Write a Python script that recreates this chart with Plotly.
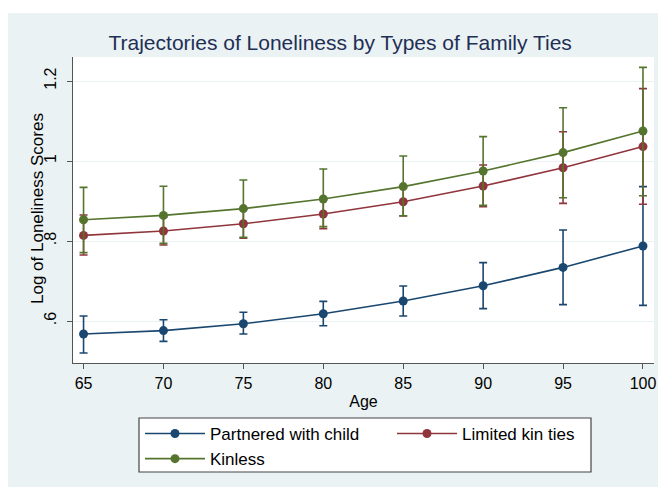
import plotly.graph_objects as go

ages = [65, 70, 75, 80, 85, 90, 95, 100]

partnered = [0.5675, 0.576, 0.593, 0.618, 0.650, 0.688, 0.734, 0.7875]
partnered_hi = [0.6125, 0.603, 0.622, 0.649, 0.6875, 0.746, 0.8275, 0.936]
partnered_lo = [0.520, 0.549, 0.5675, 0.588, 0.6125, 0.631, 0.641, 0.639]

limited = [0.814, 0.825, 0.843, 0.8675, 0.898, 0.9375, 0.983, 1.036]
limited_hi = [0.865, 0.860, 0.879, 0.904, 0.934, 0.990, 1.073, 1.181]
limited_lo = [0.765, 0.790, 0.807, 0.831, 0.8625, 0.886, 0.894, 0.892]

kinless = [0.853, 0.864, 0.881, 0.905, 0.936, 0.975, 1.021, 1.075]
kinless_hi = [0.934, 0.937, 0.9525, 0.980, 1.0125, 1.061, 1.133, 1.234]
kinless_lo = [0.771, 0.794, 0.809, 0.836, 0.863, 0.889, 0.908, 0.913]

series = [
    ("Partnered with child", partnered, partnered_hi, partnered_lo, "#1a476f"),
    ("Limited kin ties", limited, limited_hi, limited_lo, "#90353b"),
    ("Kinless", kinless, kinless_hi, kinless_lo, "#55752f"),
]

ytick_vals = [0.6, 0.8, 1.0, 1.2]
ytick_text = [".6", ".8", "1", "1.2"]
xtick_vals = [65, 70, 75, 80, 85, 90, 95, 100]

fig = go.Figure()
for name, y, hi, lo, col in series:
    fig.add_trace(go.Scatter(
        x=ages, y=y, name=name, mode="lines+markers",
        line=dict(color=col, width=1.6),
        marker=dict(color=col, size=9),
        error_y=dict(type="data", symmetric=False,
                     array=[h - v for h, v in zip(hi, y)],
                     arrayminus=[v - l for v, l in zip(y, lo)],
                     color=col, thickness=1.6, width=4),
        cliponaxis=False,
    ))

W, H = 658, 487
L, R, T, B = 73, 4, 57, 124
PW, PH = W - L - R, H - T - B


def px_x(p):
    return (p - L) / PW


def px_y(p):
    return (T + PH - p) / PH


font_family = "Liberation Sans, Arial, sans-serif"
fig.update_layout(
    width=W, height=H,
    margin=dict(l=L, r=R, t=T, b=B, autoexpand=False),
    paper_bgcolor="#eaf2f3",
    plot_bgcolor="#ffffff",
    font=dict(family=font_family, size=16, color="#000000"),
    title=dict(text="Trajectories of Loneliness by Types of Family Ties",
               x=0.517, xanchor="center", y=1 - 43 / H, yanchor="middle",
               font=dict(size=21, color="#1f2f55", family=font_family)),
    xaxis=dict(range=[64.34, 100.69], tickvals=xtick_vals,
               showgrid=False, zeroline=False, automargin=False,
               showline=True, linecolor="#555555", linewidth=1.2,
               ticks="outside", ticklen=5, tickcolor="#555555",
               tickfont=dict(size=16), ticklabelstandoff=1,
               title=dict(text="Age", font=dict(size=16), standoff=4)),
    yaxis=dict(range=[0.495, 1.26], tickvals=ytick_vals, ticktext=ytick_text,
               tickangle=-90, automargin=False,
               showgrid=True, gridcolor="#eaf2f3", gridwidth=1.3,
               zeroline=False,
               showline=True, linecolor="#555555", linewidth=1.2,
               ticks="outside", ticklen=5, tickcolor="#555555",
               tickfont=dict(size=16), ticklabelstandoff=5),
    annotations=[dict(text="Log of Loneliness Scores", textangle=-90,
                      xref="paper", yref="paper", x=px_x(37), y=px_y(209),
                      xanchor="center", yanchor="middle", showarrow=False,
                      font=dict(size=17, color="#000000"))],
    legend=dict(orientation="h", x=px_x(140), xanchor="left", y=px_y(416), yanchor="top",
                bgcolor="rgba(0,0,0,0)", borderwidth=0,
                entrywidth=177, entrywidthmode="pixels", itemwidth=60,
                font=dict(size=17), tracegroupgap=0),
    shapes=[
        dict(type="rect", xref="paper", yref="paper",
             x0=px_x(0), x1=px_x(W), y0=px_y(13), y1=px_y(0),
             fillcolor="#ffffff", line=dict(width=0), layer="below"),
        dict(type="rect", xref="paper", yref="paper",
             x0=px_x(0), x1=px_x(8), y0=px_y(H), y1=px_y(0),
             fillcolor="#ffffff", line=dict(width=0), layer="below"),
        dict(type="rect", xref="paper", yref="paper",
             x0=px_x(139), x1=px_x(591), y0=px_y(472), y1=px_y(418),
             fillcolor="#ffffff", line=dict(width=1.2, color="#444444"), layer="below"),
    ],
)

fig.write_html("out.html", config={"displayModeBar": False},
               post_script="document.body.style.margin='0px';document.body.style.overflow='hidden';")
